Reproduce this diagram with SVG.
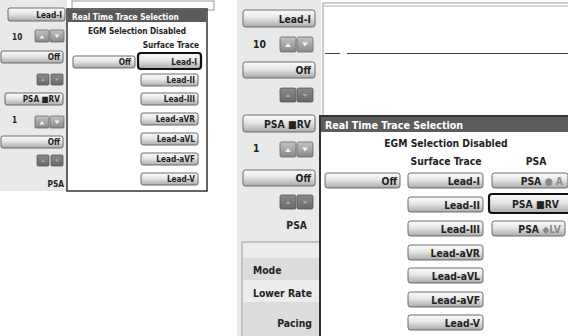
<svg xmlns="http://www.w3.org/2000/svg" width="568" height="336" viewBox="0 0 568 336">
<defs>
<linearGradient id="gBtn" x1="0" y1="0" x2="0" y2="1">
<stop offset="0" stop-color="#fcfcfc"/><stop offset="0.45" stop-color="#e6e6e6"/><stop offset="1" stop-color="#a9a9a9"/>
</linearGradient>
<linearGradient id="gArr" x1="0" y1="0" x2="0" y2="1">
<stop offset="0" stop-color="#c4c4c4"/><stop offset="1" stop-color="#888888"/>
</linearGradient>
<linearGradient id="gArrOff" x1="0" y1="0" x2="0" y2="1">
<stop offset="0" stop-color="#8a8a8a"/><stop offset="1" stop-color="#696969"/>
</linearGradient>
</defs>
<style>
text{font-family:"DejaVu Sans Condensed","DejaVu Sans","Liberation Sans",sans-serif;font-weight:bold;fill:#222}
.btn{fill:url(#gBtn);stroke:#6a6a6a;stroke-width:1}
.sel{fill:url(#gBtn);stroke:#111;stroke-width:2.2}
.arr{fill:url(#gArr);stroke:#666;stroke-width:0.8}
.arrOff{fill:url(#gArrOff);stroke:#555;stroke-width:0.8}
.glyph{fill:#f4f4f4}
.glyphOff{fill:#a8a8a8}
.s{font-size:8.2px}
.b{font-size:10.3px}
.t{font-size:10.6px}
.r{text-anchor:end}
.c{text-anchor:middle}
.title{fill:#ffffff}
.dim{fill:#8a8a8a}
.panel{fill:#e9e9e9}
</style>

<!-- ===== Small screenshot ===== -->
<g id="small-left-panel">
<rect class="panel" x="0" y="0" width="67" height="191"/>
<rect class="btn" x="8" y="8" width="57" height="13" rx="2"/>
<text class="s r" x="62" y="18">Lead-I</text>
<text class="s" x="12" y="40">10</text>
<rect class="arr" x="35" y="30" width="14" height="12" rx="1"/>
<rect class="arr" x="50" y="30" width="14" height="12" rx="1"/>
<path class="glyph" d="M39.5 38.5 L42 35 L44.5 38.5 Z M54.5 34.5 L57 38 L59.5 34.5 Z"/>
<rect class="btn" x="1" y="51" width="62" height="12" rx="2"/>
<text class="s r" x="60" y="60">Off</text>
<rect class="arrOff" x="37" y="74" width="12" height="11" rx="1"/>
<rect class="arrOff" x="51" y="74" width="12" height="11" rx="1"/>
<path class="glyphOff" d="M41 81 L43 78.5 L45 81 Z M55 78.5 L57 81 L59 78.5 Z"/>
<rect class="btn" x="5" y="93" width="58" height="12" rx="2"/>
<text class="s r" x="60" y="102">PSA ■RV</text>
<text class="s" x="12" y="123">1</text>
<rect class="arr" x="35" y="116" width="14" height="12" rx="1"/>
<rect class="arr" x="50" y="116" width="14" height="12" rx="1"/>
<path class="glyph" d="M39.5 124.5 L42 121 L44.5 124.5 Z M54.5 120.5 L57 124 L59.5 120.5 Z"/>
<rect class="btn" x="1" y="136" width="62" height="12" rx="2"/>
<text class="s r" x="60" y="145">Off</text>
<rect class="arrOff" x="37" y="155" width="12" height="11" rx="1"/>
<rect class="arrOff" x="51" y="155" width="12" height="11" rx="1"/>
<path class="glyphOff" d="M41 162 L43 159.5 L45 162 Z M55 159.5 L57 162 L59 159.5 Z"/>
<text class="s r" x="64" y="187">PSA</text>
</g>

<g id="small-top-frame">
<rect x="72" y="1" width="142" height="9" fill="#ffffff" stroke="#9a9a9a" stroke-width="1"/>
</g>

<g id="small-dialog">
<rect x="67" y="9" width="140" height="182" fill="#ffffff" stroke="#333" stroke-width="1.5"/>
<rect x="68" y="10" width="138" height="12" fill="#5a5a5a"/>
<text class="s title" x="72" y="19.5">Real Time Trace Selection</text>
<text class="s c" x="137" y="34">EGM Selection Disabled</text>
<text class="s r" x="199" y="48">Surface Trace</text>
<rect class="btn" x="73" y="56" width="62" height="12" rx="2"/>
<text class="s r" x="131" y="65">Off</text>
<rect class="sel" x="138" y="53" width="63" height="16" rx="3"/>
<text class="s r" x="197" y="64.5">Lead-I</text>
<rect class="btn" x="141" y="74" width="57" height="12" rx="2"/>
<text class="s r" x="195" y="83">Lead-II</text>
<rect class="btn" x="141" y="93" width="57" height="12" rx="2"/>
<text class="s r" x="195" y="102">Lead-III</text>
<rect class="btn" x="141" y="113" width="57" height="12" rx="2"/>
<text class="s r" x="195" y="122">Lead-aVR</text>
<rect class="btn" x="141" y="133" width="57" height="12" rx="2"/>
<text class="s r" x="195" y="142">Lead-aVL</text>
<rect class="btn" x="141" y="153" width="57" height="12" rx="2"/>
<text class="s r" x="195" y="162">Lead-aVF</text>
<rect class="btn" x="141" y="173" width="57" height="12" rx="2"/>
<text class="s r" x="195" y="182">Lead-V</text>
</g>

<!-- ===== Large screenshot ===== -->
<g id="large-left-panel">
<rect class="panel" x="237" y="0" width="84" height="336"/>
<rect class="btn" x="243" y="10" width="72" height="17" rx="2.5"/>
<text class="b r" x="311" y="23">Lead-I</text>
<text class="b" x="253" y="48">10</text>
<rect class="arr" x="280" y="37" width="16" height="15" rx="1.5"/>
<rect class="arr" x="297" y="37" width="16" height="15" rx="1.5"/>
<path class="glyph" d="M285 47 L288 43 L291 47 Z M302 42.5 L305 46.5 L308 42.5 Z"/>
<rect class="btn" x="243" y="62" width="72" height="16" rx="2.5"/>
<text class="b r" x="311" y="74">Off</text>
<rect class="arrOff" x="280" y="88" width="16" height="14" rx="1.5"/>
<rect class="arrOff" x="297" y="88" width="16" height="14" rx="1.5"/>
<path class="glyphOff" d="M285.5 97 L288 94 L290.5 97 Z M302.5 94 L305 97 L307.5 94 Z"/>
<rect class="btn" x="243" y="115" width="72" height="17" rx="2.5"/>
<text class="b r" x="311" y="127.5">PSA ■RV</text>
<text class="b" x="253" y="152">1</text>
<rect class="arr" x="280" y="142" width="16" height="15" rx="1.5"/>
<rect class="arr" x="297" y="142" width="16" height="15" rx="1.5"/>
<path class="glyph" d="M285 152 L288 148 L291 152 Z M302 147.5 L305 151.5 L308 147.5 Z"/>
<rect class="btn" x="243" y="170" width="72" height="16" rx="2.5"/>
<text class="b r" x="311" y="182">Off</text>
<rect class="arrOff" x="280" y="195" width="16" height="14" rx="1.5"/>
<rect class="arrOff" x="297" y="195" width="16" height="14" rx="1.5"/>
<path class="glyphOff" d="M285.5 204 L288 201 L290.5 204 Z M302.5 201 L305 204 L307.5 201 Z"/>
<text class="b r" x="307" y="229">PSA</text>
</g>

<g id="large-settings-list">
<rect x="242" y="242" width="80" height="96" fill="#ececec" stroke="#9a9a9a" stroke-width="1"/>
<rect x="243" y="258" width="77" height="22" fill="#dcdcdc"/>
<rect x="243" y="302" width="77" height="34" fill="#dcdcdc"/>
<text class="b" x="253" y="274">Mode</text>
<text class="b" x="253" y="297">Lower Rate</text>
<text class="b r" x="312" y="327">Pacing</text>
</g>

<g id="large-trace-area">
<rect x="323" y="3" width="250" height="113" fill="#ffffff" stroke="#9a9a9a" stroke-width="1"/>
<line x1="323" y1="6" x2="568" y2="6" stroke="#b0b0b0" stroke-width="1"/>
<line x1="325" y1="53.5" x2="340" y2="53.5" stroke="#444" stroke-width="1"/>
<line x1="347" y1="53.5" x2="568" y2="53.5" stroke="#444" stroke-width="1"/>
</g>

<g id="large-dialog">
<rect x="320" y="116" width="252" height="224" fill="#ffffff" stroke="#333" stroke-width="2"/>
<rect x="321" y="117" width="248" height="15" fill="#5c5c5c"/>
<text class="t title" x="325" y="129">Real Time Trace Selection</text>
<text class="b c" x="446" y="147">EGM Selection Disabled</text>
<text class="b c" x="446" y="165">Surface Trace</text>
<text class="b c" x="536" y="165">PSA</text>
<rect class="btn" x="325" y="173" width="75" height="15" rx="2.5"/>
<text class="b r" x="397" y="185">Off</text>
<rect class="btn" x="408" y="173" width="75" height="15" rx="2.5"/>
<text class="b r" x="480" y="185">Lead-I</text>
<rect class="btn" x="408" y="197" width="75" height="15" rx="2.5"/>
<text class="b r" x="480" y="209">Lead-II</text>
<rect class="btn" x="408" y="221" width="75" height="15" rx="2.5"/>
<text class="b r" x="480" y="233">Lead-III</text>
<rect class="btn" x="408" y="245" width="75" height="15" rx="2.5"/>
<text class="b r" x="480" y="257">Lead-aVR</text>
<rect class="btn" x="408" y="268" width="75" height="15" rx="2.5"/>
<text class="b r" x="480" y="280">Lead-aVL</text>
<rect class="btn" x="408" y="292" width="75" height="15" rx="2.5"/>
<text class="b r" x="480" y="304">Lead-aVF</text>
<rect class="btn" x="408" y="315" width="75" height="15" rx="2.5"/>
<text class="b r" x="480" y="327">Lead-V</text>
<rect class="btn" x="492" y="173" width="76" height="15" rx="2.5"/>
<text class="b r" x="563" y="185">PSA <tspan class="dim">● A</tspan></text>
<rect class="sel" x="489" y="194" width="82" height="19" rx="3"/>
<text class="b r" x="559" y="208">PSA ■RV</text>
<rect class="btn" x="492" y="221" width="73" height="15" rx="2.5"/>
<text class="b r" x="561" y="233">PSA <tspan class="dim">◆LV</tspan></text>
</g>
</svg>
